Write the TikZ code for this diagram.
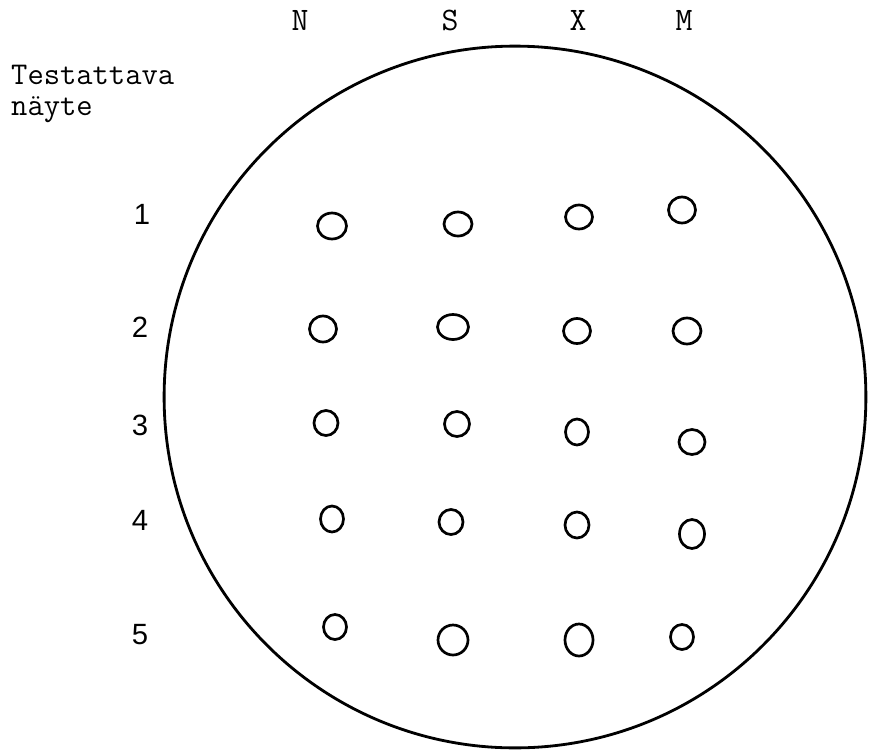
\documentclass[tikz,border=0pt]{standalone}
\usepackage{fontspec}
\newfontfamily\numfont{Liberation Sans}
\usetikzlibrary{shapes.geometric}
\tikzset{
  px/.style={x=0.03cm,y=-0.03cm},
  well/.style={draw,ellipse,line width=2.3pt,inner sep=0pt},
  colhead/.style={font=\ttfamily\fontsize{28}{32}\selectfont},
  sidehead/.style={font=\ttfamily\fontsize{27}{26}\selectfont},
  rowhead/.style={font=\numfont\fontsize{25}{28}\selectfont},
  plate/.style={draw,circle,line width=2.4pt,inner sep=0pt,minimum size=599pt}
}
\newcommand{\wl}[5]{\node[well,minimum width=#4*0.8536pt,minimum height=#5*0.8536pt] (#1) at (#2,#3) {};}
\begin{document}
\begin{tikzpicture}[px]
\useasboundingbox (0,0) rectangle (870,754);
\node[plate] (plate) at (515,397) {};
% column heads
\node[colhead,anchor=base] (cN) at (300,30) {N};
\node[colhead,anchor=base] (cS) at (450,30) {S};
\node[colhead,anchor=base] (cX) at (578,30) {X};
\node[colhead,anchor=base] (cM) at (684,30) {M};
% side label
\node[sidehead,anchor=north west,inner sep=0pt,align=left] (side) at (11,65) {Testattava\\näyte};
% row heads
\node[rowhead] (r1) at (142,214) {1};
\node[rowhead] (r2) at (140,327) {2};
\node[rowhead] (r3) at (140,425) {3};
\node[rowhead] (r4) at (140,520) {4};
\node[rowhead] (r5) at (140,635) {5};
% wells
\wl{w11}{332}{226}{29}{26}
\wl{w12}{458}{224}{28}{24}
\wl{w13}{579}{217}{27}{24}
\wl{w14}{682}{210}{27}{26}
\wl{w21}{323}{329}{27}{26}
\wl{w22}{453}{327}{31}{25}
\wl{w23}{577}{331}{27}{25}
\wl{w24}{687}{331}{28}{26}
\wl{w31}{326}{423}{24}{25}
\wl{w32}{457}{424}{25}{25}
\wl{w33}{577}{432}{23}{26}
\wl{w34}{692}{442}{26}{25}
\wl{w41}{332}{519}{23}{26}
\wl{w42}{451}{522}{24}{25}
\wl{w43}{577}{525}{24}{26}
\wl{w44}{692}{534}{25}{29}
\wl{w51}{335}{627}{23}{25}
\wl{w52}{453}{640}{30}{30}
\wl{w53}{579}{640}{28}{32}
\wl{w54}{682}{637}{23}{25}
\end{tikzpicture}
\end{document}
